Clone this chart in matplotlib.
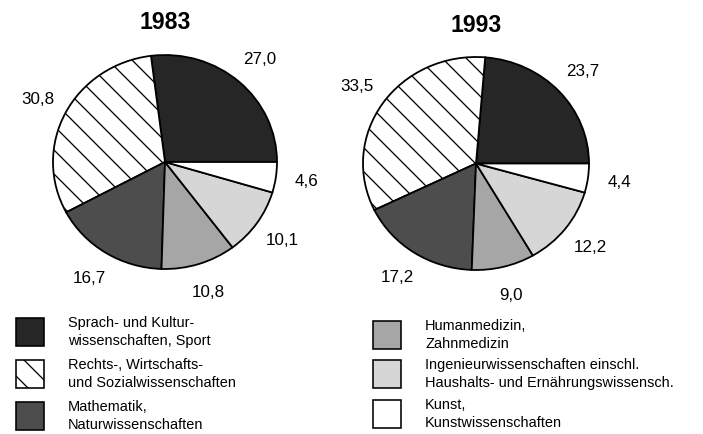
import numpy as np
import matplotlib
matplotlib.use("Agg")
import matplotlib.pyplot as plt

plt.rcParams['font.family'] = ['Liberation Sans', 'DejaVu Sans']
plt.rcParams['hatch.linewidth'] = 1.3

# Reihenfolge gegen den Uhrzeigersinn ab 3 Uhr
categories = ["Sprach- und Kultur-\nwissenschaften, Sport",
              "Rechts-, Wirtschafts-\nund Sozialwissenschaften",
              "Mathematik,\nNaturwissenschaften",
              "Humanmedizin,\nZahnmedizin",
              "Ingenieurwissenschaften einschl.\nHaushalts- und Ernährungswissensch.",
              "Kunst,\nKunstwissenschaften"]
values_1983 = [27.0, 30.8, 16.7, 10.8, 10.1, 4.6]
values_1993 = [23.7, 33.5, 17.2, 9.0, 12.2, 4.4]
labels_1983 = ["27,0", "30,8", "16,7", "10,8", "10,1", "4,6"]
labels_1993 = ["23,7", "33,5", "17,2", "9,0", "12,2", "4,4"]

fills = ["#262626", "white", "#4d4d4d", "#a6a6a6", "#d6d6d6", "white"]
hatches = [None, "\\", None, None, None, None]

# dpi 72: 1 pt = 1 px, Schraffurabstand ~12 px wie im Original
W, H = 703, 434
DPI = 72
fig = plt.figure(figsize=(W / DPI, H / DPI), dpi=DPI)


def px_axes(x0, y0, x1, y1):
    # Pixelbox (oben links als Ursprung) -> Figurkoordinaten
    return fig.add_axes([x0 / W, 1 - y1 / H, (x1 - x0) / W, (y1 - y0) / H])


def draw_pie(ax, vals, labs, title):
    wedges, _ = ax.pie(vals, colors=fills, startangle=0, counterclock=True,
                       wedgeprops=dict(edgecolor="black", linewidth=1.8))
    for w, h in zip(wedges, hatches):
        if h:
            w.set_hatch(h)
    ax.set_aspect("auto")
    ax.set_xlim(-1, 1)
    ax.set_ylim(-1, 1)
    for w, lab in zip(wedges, labs):
        mid = np.deg2rad((w.theta1 + w.theta2) / 2)
        ax.text(1.28 * np.cos(mid), 1.28 * np.sin(mid), lab, ha="center",
                va="center", fontsize=17)
    ax.text(0, 1.30, title, ha="center", va="center", fontsize=23,
            fontweight="bold")


ax1 = px_axes(53, 55, 277, 269)
draw_pie(ax1, values_1983, labels_1983, "1983")
ax2 = px_axes(363, 57, 589, 270)
draw_pie(ax2, values_1993, labels_1993, "1993")

# Legende
leg = fig.add_axes([0, 0, 1, 1])
leg.set_xlim(0, W)
leg.set_ylim(H, 0)
leg.axis("off")
legend_pos = [(16, 318), (16, 360), (16, 402), (373, 321), (373, 360), (373, 400)]
for (x, y), name, fc, h in zip(legend_pos, categories, fills, hatches):
    leg.add_patch(plt.Rectangle((x, y), 28, 28, facecolor=fc, edgecolor="black",
                                linewidth=1.6, hatch=h))
    leg.text(x + 52, y + 14, name, ha="left", va="center", fontsize=14.5,
             linespacing=1.4)

fig.savefig("out.png", dpi=DPI)
